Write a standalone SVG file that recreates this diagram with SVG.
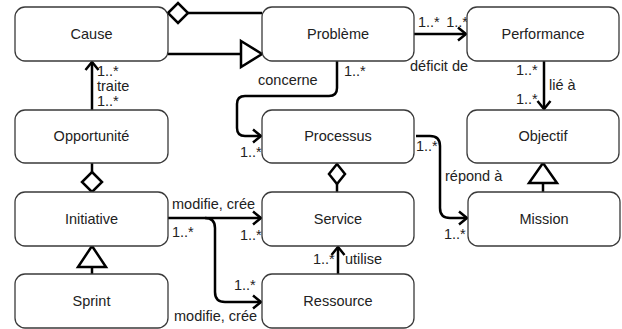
<svg xmlns="http://www.w3.org/2000/svg" width="622" height="329" viewBox="0 0 622 329">
<style>
.box{fill:#fff;stroke:#3a3a3a;stroke-width:1.3}
.t{font-family:"Liberation Sans",Arial,sans-serif;font-size:14.5px;fill:#222}
.c{text-anchor:middle}
.ln{fill:none;stroke:#000;stroke-width:2.5}
.sh{fill:#fff;stroke:#000;stroke-width:2.5;stroke-linejoin:miter}
</style>
<defs>
<marker id="arr" markerUnits="userSpaceOnUse" viewBox="0 0 12 16" markerWidth="12" markerHeight="16" refX="10" refY="8" orient="auto">
<path d="M2,1.5 L10,8 L2,14.5" fill="none" stroke="#000" stroke-width="2.5"/>
</marker>
</defs>
<g id="connectors">
<path class="ln" d="M92,110 V62" marker-end="url(#arr)"/>
<path class="ln" d="M337,61 V88 Q337,96 329,96 H245 Q237,96 237,104 V128 Q237,136 245,136 H261" marker-end="url(#arr)"/>
<path class="ln" d="M414,34 H466" marker-end="url(#arr)"/>
<path class="ln" d="M544,61 V109" marker-end="url(#arr)"/>
<path class="ln" d="M416,136 H430 Q440,136 440,146 V208 Q440,218 450,218 H467" marker-end="url(#arr)"/>
<path class="ln" d="M168,218 H261" marker-end="url(#arr)"/>
<path class="ln" d="M205,218 Q215,218 215,228 V292 Q215,302 225,302 H261" marker-end="url(#arr)"/>
<path class="ln" d="M338,274 V247" marker-end="url(#arr)"/>
<path class="ln" d="M188,13 H262"/>
<polygon class="sh" points="168,13 178,3 188,13 178,23"/>
<path class="ln" d="M168,54 H241"/>
<polygon class="sh" points="241,41 262,54 241,67"/>
<path class="ln" d="M92,163 V172"/>
<polygon class="sh" points="92,172 102,182 92,192 82,182"/>
<polygon class="sh" points="92,246 106,267 78,267"/>
<path class="ln" d="M92,267 V274"/>
<polygon class="sh" points="337,164 345,174 337,184 329,174"/>
<path class="ln" d="M337,184 V192"/>
<polygon class="sh" points="543,163 557,183 529,183"/>
<path class="ln" d="M543,183 V192"/>
<text class="t" x="97" y="76">1..*</text>
<text class="t" x="97" y="91">traite</text>
<text class="t" x="97" y="106">1..*</text>
<text class="t" x="258" y="85">concerne</text>
<text class="t" x="344" y="76">1..*</text>
<text class="t" x="240" y="157">1..*</text>
<text class="t" x="418" y="27">1..*</text>
<text class="t" x="468" y="27" text-anchor="end">1..*</text>
<text class="t" x="410" y="71">déficit de</text>
<text class="t" x="516" y="75">1..*</text>
<text class="t" x="549" y="90">lié à</text>
<text class="t" x="516" y="104">1..*</text>
<text class="t" x="416" y="151">1..*</text>
<text class="t" x="445" y="181">répond à</text>
<text class="t" x="444" y="239">1..*</text>
<text class="t" x="172" y="209">modifie, crée</text>
<text class="t" x="172" y="237">1..*</text>
<text class="t" x="240" y="240">1..*</text>
<text class="t" x="234" y="290">1..*</text>
<text class="t" x="174" y="321">modifie, crée</text>
<text class="t" x="313" y="264">1..*</text>
<text class="t" x="345" y="264">utilise</text>
</g>
<g id="cause"><rect class="box" x="15" y="7" width="153" height="54" rx="10"/><text class="t c" x="91.5" y="39">Cause</text></g>
<g id="probleme"><rect class="box" x="262" y="7" width="152" height="54" rx="10"/><text class="t c" x="338" y="39">Problème</text></g>
<g id="performance"><rect class="box" x="467" y="7" width="152" height="54" rx="10"/><text class="t c" x="543" y="39">Performance</text></g>
<g id="opportunite"><rect class="box" x="15" y="110" width="153" height="53" rx="10"/><text class="t c" x="91.5" y="141">Opportunité</text></g>
<g id="processus"><rect class="box" x="262" y="110" width="152" height="53" rx="10"/><text class="t c" x="338" y="141">Processus</text></g>
<g id="objectif"><rect class="box" x="467" y="110" width="152" height="53" rx="10"/><text class="t c" x="543" y="141">Objectif</text></g>
<g id="initiative"><rect class="box" x="15" y="192" width="153" height="54" rx="10"/><text class="t c" x="91.5" y="224">Initiative</text></g>
<g id="service"><rect class="box" x="262" y="192" width="152" height="54" rx="10"/><text class="t c" x="338" y="224">Service</text></g>
<g id="mission"><rect class="box" x="468" y="192" width="152" height="54" rx="10"/><text class="t c" x="544" y="224">Mission</text></g>
<g id="sprint"><rect class="box" x="15" y="274" width="153" height="54" rx="10"/><text class="t c" x="91.5" y="306">Sprint</text></g>
<g id="ressource"><rect class="box" x="262" y="274" width="152" height="54" rx="10"/><text class="t c" x="338" y="306">Ressource</text></g>
</svg>
